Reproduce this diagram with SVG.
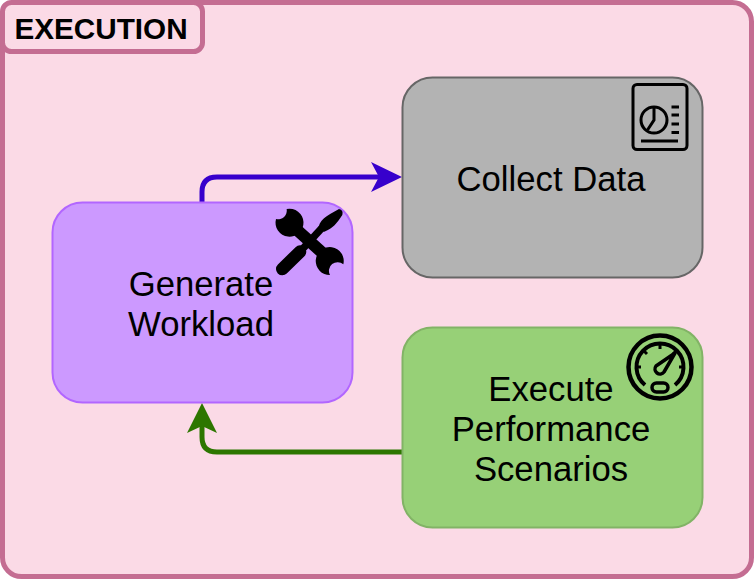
<svg xmlns="http://www.w3.org/2000/svg" width="754" height="579" viewBox="0 0 754 579">
<style>
text{font-family:"Liberation Sans",Arial,sans-serif;font-size:34.700px;fill:#000;text-anchor:middle}
.t{font-weight:bold;font-size:29.700px}
.frame{fill:#fbdae6;stroke:#c46d92;stroke-width:5}
.node{stroke-width:2}
.conn{fill:none;stroke-width:5}
.i{fill:none;stroke:#000}
</style>
<g id="execution"><rect class="frame" x="2.500" y="2.500" width="749" height="574" rx="19"/><rect class="frame" x="2.500" y="2.500" width="200" height="49" rx="9"/><text class="t" x="101" y="38.500">EXECUTION</text></g>
<g id="connectors">
<path class="conn" stroke="#3700cc" d="M202 202V192Q202 177 217 177H382"/><path fill="#3700cc" d="M402 177L371 192L379 177L371 162Z"/>
<path class="conn" stroke="#2d7600" d="M402 452H217Q202 452 202 437V424"/><path fill="#2d7600" d="M202 403L217 433L202 426L187 433Z"/>
</g>
<g id="collect-data"><rect class="node" x="402.500" y="77.500" width="300" height="200" rx="30" fill="#b3b3b3" stroke="#666"/>
<g class="i" stroke-width="3"><rect x="633" y="84.500" width="54" height="65" rx="4"/><circle cx="654" cy="120" r="13"/><path d="M654 107V120L647.500 130M641 141H678"/><path d="M671.500 107H679M671.500 115H679M671.500 124H679M671.500 132.500H679"/></g>
<text x="551" y="191">Collect Data</text></g>
<g id="generate-workload"><rect class="node" x="52.500" y="202.500" width="300" height="200" rx="30" fill="#cc99ff" stroke="#b266ff"/>
<g transform="translate(265 195) scale(.3333)"><path d="M85 95L185 185" stroke="#000" stroke-width="36"/><path d="M65 42A42 42 0 1 1 33 72A26 26 0 0 0 65 42Z"/><path d="M235 208A42 42 0 1 0 195 240A26 26 0 0 1 235 208Z"/><path d="M52 222L105 170" stroke="#000" stroke-width="38" stroke-linecap="round"/><path d="M105 170L170 100" stroke="#000" stroke-width="22"/><path d="M160 105C160 75 185 62 222 42Q236 45 232 60C215 85 205 100 178 110Z"/></g>
<text x="201" y="296">Generate</text><text x="201" y="336">Workload</text></g>
<g id="execute-performance-scenarios"><rect class="node" x="402.500" y="327.500" width="300" height="200" rx="30" fill="#97d077" stroke="#82b366"/>
<g class="i"><circle cx="660" cy="367" r="31.500" stroke-width="4.500"/><path stroke-width="4" d="M645 385A23.500 23.500 0 1 1 675 385"/><path stroke-width="3" d="M660 344V349M643 350L647 354M677 350L673 354M636 367H641M679 367H684"/><rect x="652" y="383" width="16" height="9" rx="4.500" stroke-width="3.500"/><path stroke-width="3.500" stroke-linejoin="round" d="M675 353L664 372A4.500 4.500 0 0 1 656 366Z"/></g>
<text x="551" y="401">Execute</text><text x="551" y="441">Performance</text><text x="551" y="481">Scenarios</text></g>
</svg>
